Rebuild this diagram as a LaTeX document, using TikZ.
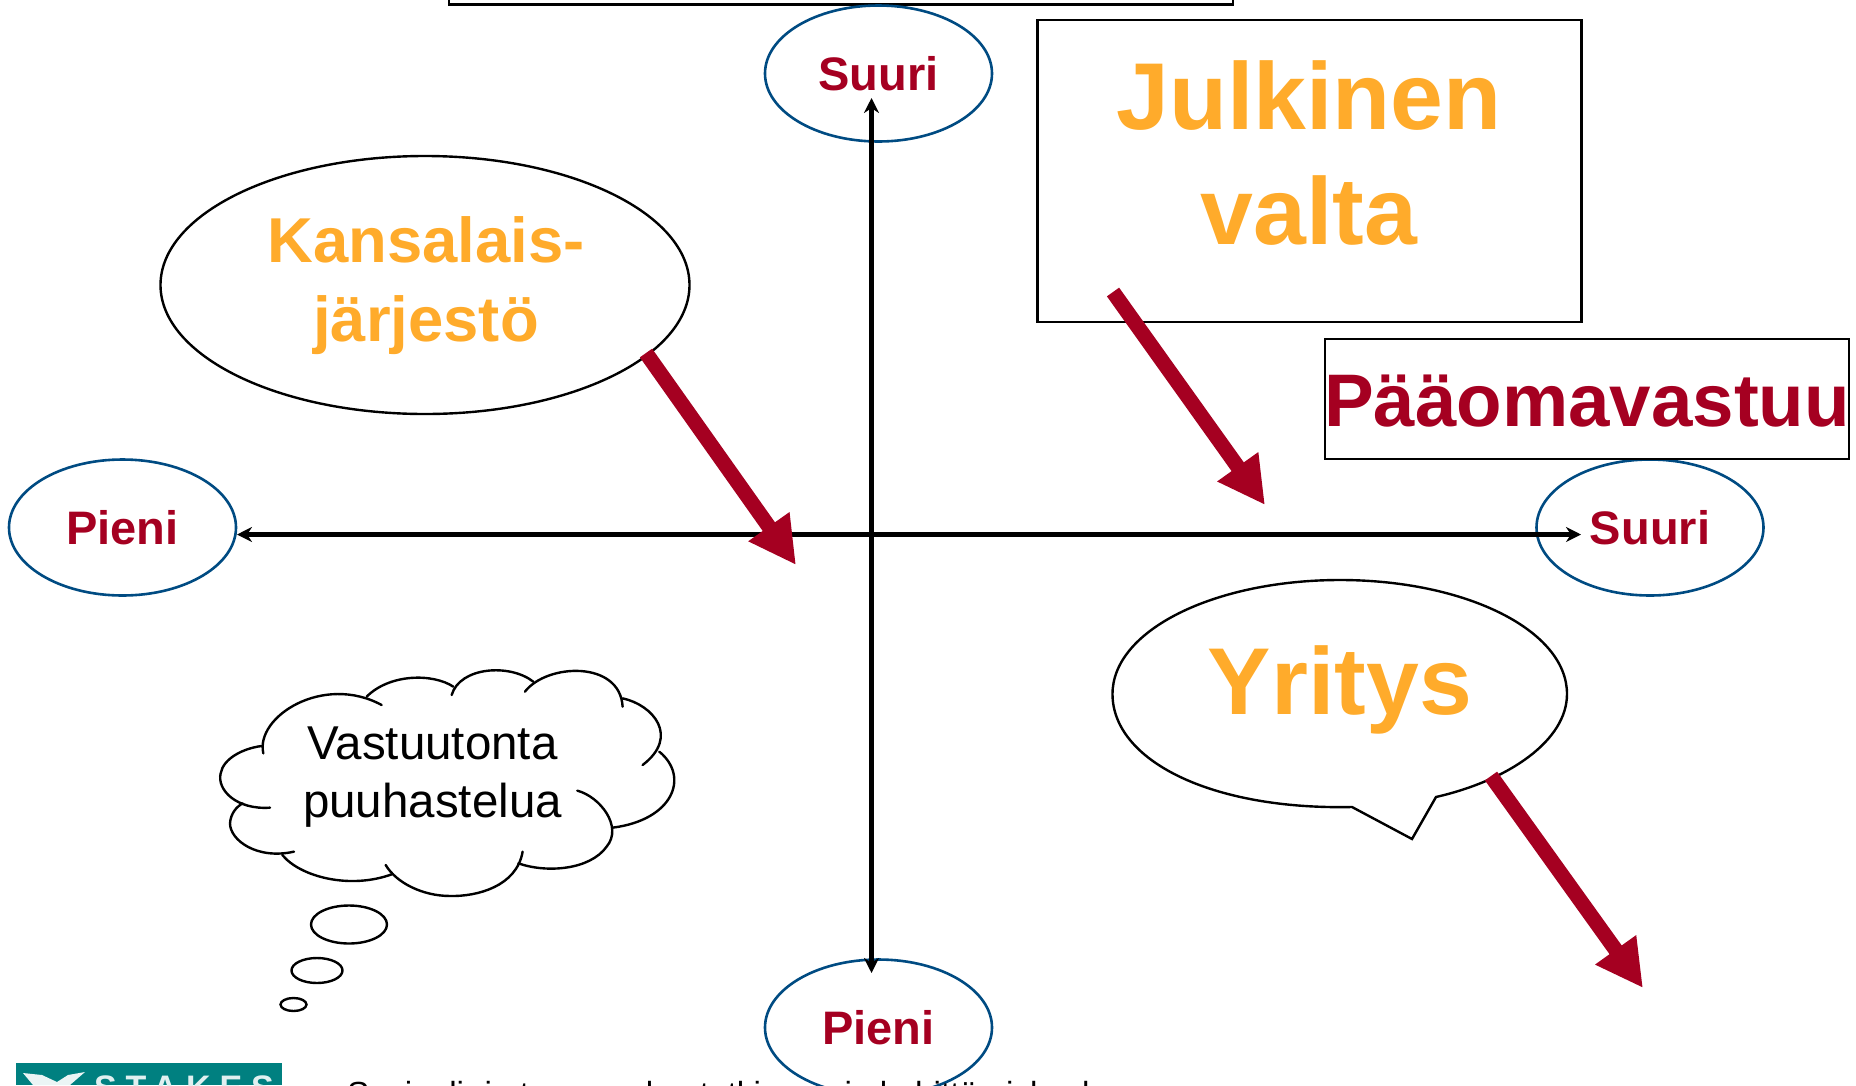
\documentclass[tikz,border=0pt]{standalone}
\usepackage{fontspec}
\setmainfont{Liberation Sans}
\usetikzlibrary{arrows.meta,shapes.geometric}
\definecolor{crimsonc}{HTML}{A50021}
\definecolor{orangec}{HTML}{FFAB2B}
\definecolor{bluec}{HTML}{004B82}
\definecolor{tealc}{HTML}{008080}
\tikzset{
  axisline/.style={line width=4.6pt,black,{Stealth[length=15pt,width=15pt]}-{Stealth[length=15pt,width=15pt]}},
  redarrow/.style={line width=15pt,crimsonc,-{Triangle[length=47pt,width=47pt]}},
  scaleoval/.style={ellipse,draw=bluec,line width=2.6pt,minimum width=227pt,minimum height=136pt,inner sep=0pt,outer sep=0pt,text=crimsonc,font=\bfseries\fontsize{47}{50}\selectfont},
  blackbox/.style={rectangle,draw=black,line width=2.6pt,inner sep=0pt,outer sep=0pt},
  blackoval/.style={ellipse,draw=black,line width=2.4pt,inner sep=0pt,outer sep=0pt},
  bigtext/.style={text=orangec,align=center,inner sep=0pt,font=\bfseries\fontsize{95}{115}\selectfont},
  midtext/.style={text=orangec,align=center,inner sep=0pt,font=\bfseries\fontsize{63.4}{79}\selectfont},
  cloudline/.style={line width=2.4pt,black,line cap=round},
}
\begin{document}
\begin{tikzpicture}[x=1pt,y=-1pt]
\useasboundingbox (0,0) rectangle (1856,1085);
% top cropped box
\node[blackbox,minimum width=784pt,minimum height=60pt,anchor=south west] (topbox) at (449,4.5) {};
% scale ovals
\node[scaleoval] (suuritop) at (878.5,73.5) {Suuri};
\node[scaleoval] (pienileft) at (122.5,527.5) {Pieni};
\node[scaleoval] (suuriright) at (1650,527.5) {Suuri};
\node[scaleoval] (pienibottom) at (878.5,1027.5) {Pieni};
% axes
\coordinate (axl) at (237,534.5);
\coordinate (axr) at (1581,534.5);
\coordinate (axt) at (871.5,98);
\coordinate (axb) at (871.5,973);
\draw[axisline] (axl) -- (axr);
\draw[axisline] (axt) -- (axb);
% Julkinen valta
\node[blackbox,minimum width=544pt,minimum height=302pt,anchor=north west] (julkbox) at (1037.5,20) {};
\node[bigtext] (julktext) at (1309,153) {Julkinen\\valta};
% Paaomavastuu
\node[blackbox,minimum width=524pt,minimum height=120pt,anchor=north west] (paabox) at (1325,339) {};
\node[text=crimsonc,inner sep=0pt,font=\bfseries\fontsize{74.5}{80}\selectfont] (paatext) at (1587,401) {Pääomavastuu};
% Kansalaisjarjesto
\node[blackoval,minimum width=529pt,minimum height=258pt] (kansa) at (425,285) {};
\node[midtext] (kansatext) at (426,286) {Kansalais-\\järjestö};
% Yritys speech bubble
\draw[line width=2.4pt,black,line join=miter] (1352,807)
  .. controls (1210,810) and (1112.5,760) .. (1112.5,694)
  .. controls (1112.5,630) and (1215,580) .. (1340,580)
  .. controls (1465,580) and (1567,630) .. (1567,694)
  .. controls (1567,740) and (1510,780) .. (1436,797)
  -- (1412,839) -- cycle;
\node[text=orangec,inner sep=0pt,font=\bfseries\fontsize{95}{115}\selectfont] (yritys) at (1340,690) {Yritys};
% Cloud
\begin{scope}[shift={(200,650)},x=0.3333pt,y=-0.3333pt]
\draw[cloudline] (190,310) .. controls (165,200) and (370,70) .. (545,165);
\draw[cloudline] (500,140) .. controls (570,70) and (700,70) .. (760,110);
\draw[cloudline] (755,135) .. controls (780,50) and (930,40) .. (1000,95);
\draw[cloudline] (975,125) .. controls (1040,40) and (1260,30) .. (1268,170);
\draw[cloudline] (1268,145) .. controls (1360,165) and (1440,260) .. (1328,345);
\draw[cloudline] (1378,305) .. controls (1470,380) and (1420,510) .. (1238,533);
\draw[cloudline] (1132,422) .. controls (1200,440) and (1270,530) .. (1220,590) .. controls (1170,660) and (1040,670) .. (955,640);
\draw[cloudline] (968,605) .. controls (950,710) and (830,740) .. (750,738) .. controls (670,738) and (590,700) .. (557,645);
\draw[cloudline] (578,672) .. controls (450,720) and (300,680) .. (247,615);
\draw[cloudline] (282,605) .. controls (170,630) and (90,570) .. (90,520) .. controls (92,490) and (110,470) .. (128,460);
\draw[cloudline] (210,473) .. controls (110,480) and (50,420) .. (62,370) .. controls (70,325) and (130,295) .. (185,288);
\end{scope}
\node[inner sep=0pt,anchor=base,align=center,font=\fontsize{47.5}{58}\selectfont] (cloudtext) at (432.5,817) {Vastuutonta\\puuhastelua};
\node[blackoval,minimum width=76pt,minimum height=38pt] (bub1) at (349,924.5) {};
\node[blackoval,minimum width=51pt,minimum height=25pt] (bub2) at (317,970.5) {};
\node[blackoval,minimum width=26pt,minimum height=13pt] (bub3) at (293.5,1004.5) {};
% Red arrows
\coordinate (ra1) at (646,353); \coordinate (rb1) at (796,565);
\coordinate (ra2) at (1113,292); \coordinate (rb2) at (1265,505);
\coordinate (ra3) at (1491,776); \coordinate (rb3) at (1643,988);
\draw[redarrow] (ra1) -- (rb1);
\draw[redarrow] (ra2) -- (rb2);
\draw[redarrow] (ra3) -- (rb3);
% Logo
\clip (0,0) rectangle (1856,1085);
\fill[tealc] (16,1063) rectangle (282,1085);
\fill[white!92!tealc] (23,1073) -- (42,1075) -- (57,1082) -- (68,1075) -- (85,1072) -- (70,1085) -- (33,1085) -- cycle;
\node[anchor=base west,inner sep=0pt,text=white!88!tealc,font=\bfseries\addfontfeature{LetterSpace=26}\fontsize{34}{36}\selectfont] (stakes) at (94,1099) {STAKES};
% Footer
\node[anchor=base west,inner sep=0pt,font=\fontsize{33.4}{36}\selectfont] (footer) at (347,1105) {Sosiaali- ja terveysalan tutkimus- ja kehittämiskeskus};
\end{tikzpicture}
\end{document}
